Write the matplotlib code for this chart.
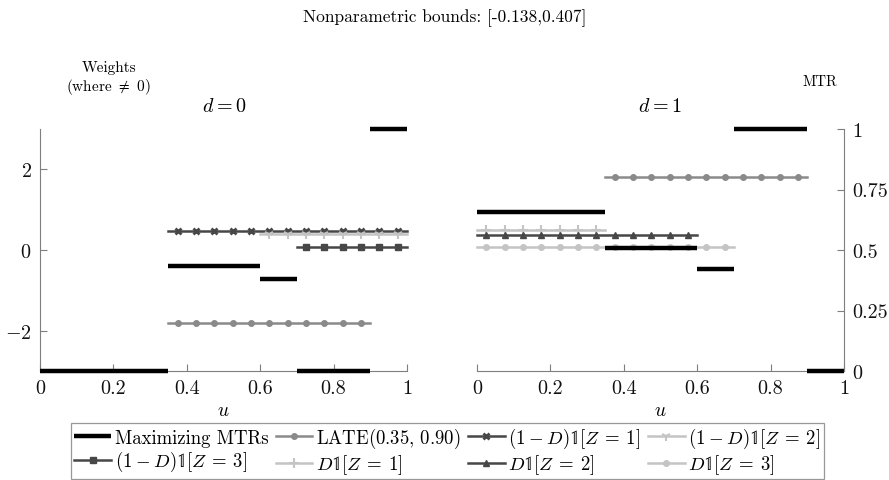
import numpy as np
import matplotlib
matplotlib.use("Agg")
import matplotlib.pyplot as plt

plt.rcParams['font.family'] = ['cmr10', 'DejaVu Serif']
plt.rcParams['mathtext.fontset'] = 'cm'
plt.rcParams['axes.formatter.use_mathtext'] = True

# --- data ---
u_edges = [0, 0.35, 0.6, 0.7, 0.9, 1.0]
mtr_d0 = [0.0, 0.432, 0.382, 0.0, 1.0]
mtr_d1 = [0.658, 0.51, 0.423, 1.0, 0.0]

# weights: (label, start, end, value)
w_labels = [r'LATE$(0.35,\, 0.90)$',
            r'$(1\:-\:D)\mathbb{1}[Z\:=\:1]$', r'$(1\:-\:D)\mathbb{1}[Z\:=\:2]$',
            r'$(1\:-\:D)\mathbb{1}[Z\:=\:3]$',
            r'$D\mathbb{1}[Z\:=\:1]$', r'$D\mathbb{1}[Z\:=\:2]$', r'$D\mathbb{1}[Z\:=\:3]$']
w_d0_start = [0.35, 0.35, 0.6, 0.7]
w_d0_end = [0.9, 1.0, 1.0, 1.0]
w_d0_val = [-1.82, 0.47, 0.40, 0.08]
w_d1_start = [0.35, 0.0, 0.0, 0.0]
w_d1_end = [0.9, 0.35, 0.6, 0.7]
w_d1_val = [1.82, 0.49, 0.38, 0.08]

x_ticks = [0, 0.2, 0.4, 0.6, 0.8, 1]
x_ticklabels = ['0', '0.2', '0.4', '0.6', '0.8', '1']
w_ticks = [-2, 0, 2]
m_ticks = [0, 0.25, 0.5, 0.75, 1]
m_ticklabels = ['0', '0.25', '0.5', '0.75', '1']

# styles
dark, mid, light = '#474747', '#8a8a8a', '#c4c4c4'
axis_col = '#7f7f7f'
late_style = dict(color=mid, marker='o', ms=4)
d0_styles = [late_style,
             dict(color=dark, marker='x', ms=5, mew=2),
             dict(color=light, marker='1', ms=7, mew=1.5),
             dict(color=dark, marker='s', ms=4.5)]
d1_styles = [late_style,
             dict(color=light, marker='+', ms=7, mew=1.5),
             dict(color=dark, marker='^', ms=4.5),
             dict(color=light, marker='o', ms=4)]
mark_step = 0.05

fig = plt.figure(figsize=(8.89, 4.81), dpi=100)
ax_l = fig.add_axes([40/889, 1-372/481, 367/889, 242/481])
ax_r = fig.add_axes([477/889, 1-372/481, 367/889, 242/481])

handles = {}


def draw_panel(ax, starts, ends, vals, styles, labels, mtr, side):
    for a, b, v, st, lab in zip(starts, ends, vals, styles, labels):
        centers = np.arange(a + mark_step / 2, b, mark_step)
        xs = np.concatenate([[a], centers, [b]])
        ln, = ax.plot(xs, np.full(len(xs), v), lw=1.8, markevery=slice(1, len(xs) - 1),
                      clip_on=False, **st)
        handles[lab] = ln
    ax.set_xlim(0, 1)
    ax.set_ylim(-3, 3)
    ax.set_xticks(x_ticks)
    ax.set_xticklabels(x_ticklabels)
    ax.set_yticks(w_ticks)
    ax.set_xlabel(r'$u$', fontsize=14, labelpad=3)
    axm = ax.twinx()
    for i in range(len(mtr)):
        ln, = axm.plot([u_edges[i], u_edges[i + 1]], [mtr[i], mtr[i]], color='black',
                       lw=3.2, solid_capstyle='butt', clip_on=False)
        handles['Maximizing MTRs'] = ln
    axm.set_ylim(0, 1)
    axm.set_yticks(m_ticks)
    axm.set_yticklabels(m_ticklabels)
    for a in (ax, axm):
        for s in ('top', 'right', 'left', 'bottom'):
            a.spines[s].set_visible(False)
        a.tick_params(direction='in', colors=axis_col, labelcolor='#111111',
                      labelsize=14.5, length=5, width=0.8, pad=6)
    ax.spines['bottom'].set_visible(True)
    ax.spines['bottom'].set_color(axis_col)
    if side == 'left':
        ax.spines['left'].set_visible(True)
        ax.spines['left'].set_color(axis_col)
        axm.set_yticks([])
    else:
        axm.spines['right'].set_visible(True)
        axm.spines['right'].set_color(axis_col)
        ax.set_yticks([])
    return axm


draw_panel(ax_l, w_d0_start, w_d0_end, w_d0_val, d0_styles,
           w_labels[:4], mtr_d0, 'left')
draw_panel(ax_r, w_d1_start, w_d1_end, w_d1_val, d1_styles,
           [w_labels[0]] + w_labels[4:], mtr_d1, 'right')

fig.text(0.5, 1 - 18/481, 'Nonparametric bounds: [-0.138,0.407]', ha='center', va='center', fontsize=12.5)
fig.text(109/889, 1 - 79/481, 'Weights\n' + r'(where $\neq$ 0)', ha='center', va='center',
         fontsize=11, linespacing=1.2)
fig.text(820/889, 1 - 82/481, 'MTR', ha='center', va='center', fontsize=10.5)
fig.text(224/889, 1 - 107/481, r'$d=0$', ha='center', va='center', fontsize=14.5)
fig.text(660/889, 1 - 107/481, r'$d=1$', ha='center', va='center', fontsize=14.5)

order = ['Maximizing MTRs'] + w_labels
# matplotlib fills legend columns first; reorder so rows read left to right
ncol = 4
rows = [order[:ncol], order[ncol:]]
ordered = [rows[r][c] for c in range(ncol) for r in range(2)]
leg = fig.legend([handles[k] for k in ordered], ordered, loc='upper center',
                 bbox_to_anchor=(447.5/889, 1 - 424/481), ncol=ncol, fontsize=13.5,
                 frameon=True, fancybox=False, edgecolor=axis_col, handlelength=1.95,
                 handletextpad=0.2, columnspacing=0.4, borderpad=0.15, labelspacing=0.12,
                 numpoints=1, borderaxespad=0)
leg.get_frame().set_linewidth(0.9)

fig.savefig('out.png', dpi=100)
